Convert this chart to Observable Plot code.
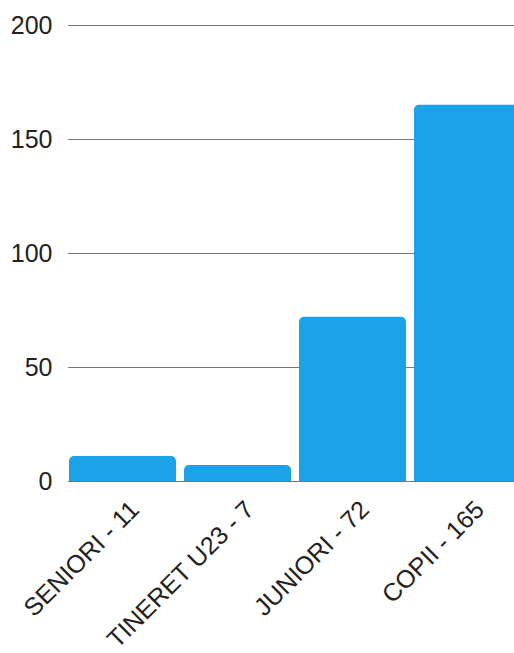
<!DOCTYPE html>
<html>
<head>
<meta charset="utf-8">
<script src="https://cdn.jsdelivr.net/npm/d3@7"></script>
<script src="https://cdn.jsdelivr.net/npm/@observablehq/plot@0.6"></script>
<style>
  html, body { margin: 0; padding: 0; background: #fff; overflow: hidden; }
  #chart { width: 514px; height: 653px; overflow: hidden; }
  #chart svg { font-family: "Liberation Sans", Arial, sans-serif; max-width: none !important; }
</style>
</head>
<body>
<div id="chart"></div>
<script>
const categories = ["SENIORI", "TINERET U23", "JUNIORI", "COPII"];
const values = [11, 7, 72, 165];
const yTicks = [0, 50, 100, 150, 200];

const data = categories.map((c, i) => ({label: `${c} - ${values[i]}`, value: values[i]}));

const chart = Plot.plot({
  width: 521,
  height: 653,
  marginLeft: 68,
  marginRight: 0,
  marginTop: 25,
  marginBottom: 172,
  style: {fontSize: "25px", color: "#222", background: "transparent", maxWidth: "none"},
  x: {domain: data.map(d => d.label), paddingInner: 0.07, paddingOuter: 0, label: null},
  y: {domain: [0, 200], ticks: yTicks, label: null},
  marks: [
    Plot.ruleY(yTicks, {stroke: "#777", strokeWidth: 1}),
    Plot.barY(data, {x: "label", y: "value", fill: "#1aa3e6", ry1: 5}),
    Plot.axisY({ticks: yTicks, tickSize: 0, tickPadding: 16, fontSize: 25, fill: "#222", label: null}),
    Plot.axisX({tickSize: 0, tickRotate: -45, tickPadding: 24, dx: 12, fontSize: 25, fill: "#222", label: null})
  ]
});
document.getElementById("chart").appendChild(chart);
</script>
</body>
</html>
